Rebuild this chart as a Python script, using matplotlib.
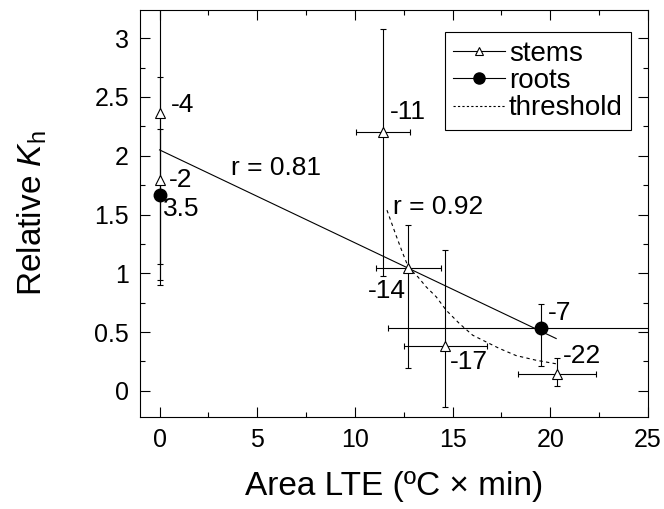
import numpy as np
import matplotlib
matplotlib.use("Agg")
from matplotlib import pyplot as plt
from matplotlib.lines import Line2D
from matplotlib.ticker import MultipleLocator, FormatStrFormatter

plt.rcParams['font.family'] = ['Liberation Sans', 'DejaVu Sans']
plt.rcParams['mathtext.fontset'] = 'custom'
plt.rcParams['mathtext.rm'] = 'Liberation Sans'
plt.rcParams['mathtext.it'] = 'Liberation Sans:italic'

# stems (open triangles)
stem_x = [0, 0, 11.43, 12.74, 14.62, 20.34]
stem_y = [2.36, 1.79, 2.205, 1.049, 0.38, 0.14]
stem_yerr_lo = [1.42, 0.89, 1.23, 0.855, 0.52, 0.10]
stem_yerr_hi = [1.42, 0.88, 0.875, 0.36, 0.82, 0.14]
stem_xerr = [0, 0, 1.4, 1.67, 2.13, 1.98]
stem_labels = ["-4", "-2", "-11", "-14", "-17", "-22"]

# roots (filled circles)
root_x = [0, 19.53]
root_y = [1.665, 0.535]
root_yerr_lo = [0.59, 0.326]
root_yerr_hi = [0.565, 0.2]
root_xerr = [0, 7.85]
root_labels = ["3.5", "-7"]

# regression line (r = 0.81)
fit_x = [0, 20.3]
fit_y = [2.05, 0.445]

# threshold curve (r = 0.92)
thr_x = [11.64, 12.11, 12.45, 12.74, 13.22, 13.65, 14.16, 14.67, 15.35,
         16.03, 16.72, 17.4, 18.25, 19.28, 20.3]
thr_y = [1.537, 1.32, 1.17, 1.05, 0.97, 0.884, 0.80, 0.686, 0.572,
         0.473, 0.416, 0.36, 0.30, 0.26, 0.23]

fig = plt.figure(figsize=(6.64, 5.09), dpi=100)
W, H = 664, 509
ax = fig.add_axes([140 / W, 1 - 416.7 / H, (648 - 140) / W, (416.7 - 10) / H])

lw = 0.8
ax.plot(fit_x, fit_y, color='black', lw=lw, zorder=2)
ax.plot(thr_x, thr_y, color='black', lw=lw, ls=(0, (3, 3)), zorder=2)

ax.errorbar(stem_x, stem_y, yerr=[stem_yerr_lo, stem_yerr_hi], xerr=stem_xerr,
            fmt='^', ms=7, mfc='white', mec='black', mew=0.8, ecolor='black',
            elinewidth=lw, capsize=2, capthick=lw, zorder=3)
ax.errorbar(root_x, root_y, yerr=[root_yerr_lo, root_yerr_hi], xerr=root_xerr,
            fmt='o', ms=9, mfc='black', mec='black', ecolor='black',
            elinewidth=lw, capsize=2, capthick=lw, zorder=3)

fs_ann = 19
ax.text(0.6, 2.43, "-4", fontsize=fs_ann, va='center')
ax.text(0.48, 1.79, "-2", fontsize=fs_ann, va='center')
ax.text(0.17, 1.55, "3.5", fontsize=fs_ann, va='center')
ax.text(11.77, 2.37, "-11", fontsize=fs_ann, va='center')
ax.text(12.6, 0.85, "-14", fontsize=fs_ann, va='center', ha='right')
ax.text(14.84, 0.245, "-17", fontsize=fs_ann, va='center')
ax.text(19.87, 0.66, "-7", fontsize=fs_ann, va='center')
ax.text(20.64, 0.30, "-22", fontsize=fs_ann, va='center')
ax.text(3.67, 1.895, "r = 0.81", fontsize=fs_ann, va='center')
ax.text(11.94, 1.566, "r = 0.92", fontsize=fs_ann, va='center')

ax.set_xlim(-1, 25)
ax.set_ylim(-0.22, 3.24)
ax.xaxis.set_major_locator(MultipleLocator(5))
ax.xaxis.set_minor_locator(MultipleLocator(2.5))
ax.yaxis.set_major_locator(MultipleLocator(0.5))
ax.yaxis.set_minor_locator(MultipleLocator(0.25))
ax.yaxis.set_major_formatter(FormatStrFormatter('%g'))
ax.tick_params(which='both', direction='in', top=True, right=True, width=lw)
ax.tick_params(which='major', length=7, labelsize=18, pad=8)
ax.tick_params(which='minor', length=3.5)
for s in ax.spines.values():
    s.set_linewidth(lw)

ax.set_xlabel("Area LTE (ºC × min)", fontsize=24, va='center')
ax.xaxis.set_label_coords(0.5, (416.7 - 487) / 406.7)
ax.set_ylabel("Relative $K_\\mathrm{h}$", fontsize=24, va='center')
ax.yaxis.set_label_coords((32 - 140) / 508, 0.5)

handles = [
    Line2D([], [], color='black', lw=lw, marker='^', ms=6, mfc='white', mec='black', mew=0.8),
    Line2D([], [], color='black', lw=lw, marker='o', ms=8, mfc='black', mec='black'),
    Line2D([], [], color='black', lw=lw, ls=(0, (2, 2))),
]
ax.legend(handles, ["stems", "roots", "threshold"], loc='upper right',
          bbox_to_anchor=((631 - 140) / 508, (416.7 - 32.3) / 406.7),
          borderaxespad=0, fontsize=20, fancybox=False, framealpha=1,
          edgecolor='black', handlelength=1.85, handletextpad=0.15,
          borderpad=0.3, labelspacing=0.05).get_frame().set_linewidth(lw)

fig.savefig("out.png", dpi=100)
